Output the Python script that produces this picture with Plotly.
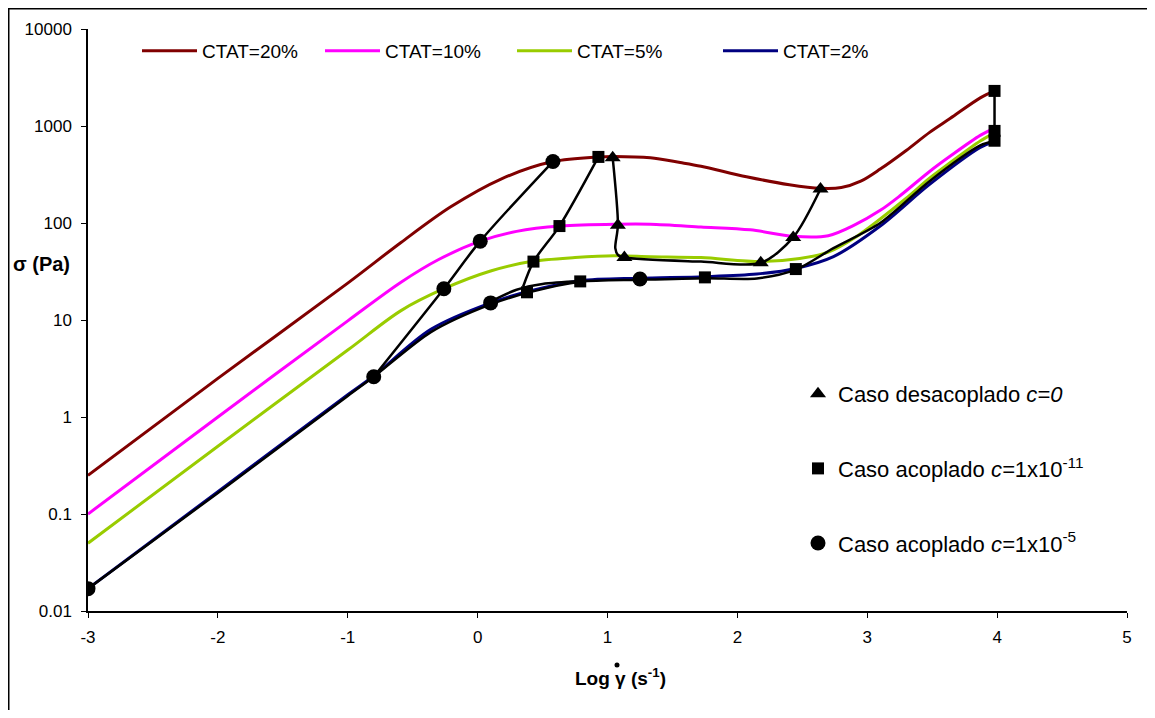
import plotly.graph_objects as go

# ---------------- data ----------------
ctat_names = ["CTAT=20%", "CTAT=10%", "CTAT=5%", "CTAT=2%"]
ctat_colors = ["#800000", "#FF00FF", "#99CC00", "#000080"]

x_20 = [-3, -2, -1, -0.59, -0.21, 0.18, 0.58, 0.93, 1.05, 1.33, 1.56, 1.72, 2.07, 2.4, 2.64, 2.8, 2.95, 3.1, 3.3, 3.48, 3.64, 3.87, 3.98]
s_20 = [0.25, 2.5, 24, 63, 146, 284, 430, 480, 485, 470, 420, 385, 300, 248, 228, 232, 270, 360, 560, 860, 1200, 1950, 2300]

x_10 = [-3, -2, -1, -0.59, -0.3, 0.02, 0.3, 0.64, 1.07, 1.33, 1.72, 2.1, 2.43, 2.7, 2.9, 3.1, 3.25, 3.48, 3.64, 3.87, 3.98]
s_10 = [0.1, 1.0, 9.8, 24.5, 42, 65, 82, 93, 97, 97, 91, 85, 73, 74, 95, 135, 190, 340, 490, 800, 950]

x_5 = [-3, -2, -1, -0.59, -0.26, 0.1, 0.41, 0.75, 1.05, 1.33, 1.72, 2.18, 2.48, 2.7, 2.9, 3.1, 3.3, 3.48, 3.64, 3.87, 3.98]
s_5 = [0.05, 0.5, 4.9, 12.5, 21, 32, 40, 44, 46, 45, 44, 40, 43, 50, 70, 110, 180, 290, 420, 700, 850]

x_2 = [-3, -2, -1, -0.8, -0.36, 0.1, 0.41, 0.79, 1.25, 1.75, 2.15, 2.45, 2.74, 3.1, 3.48, 3.87, 3.98]
s_2 = [0.017, 0.17, 1.7, 2.65, 8.0, 15, 20, 25.4, 27, 28, 29.8, 34, 45, 93, 250, 600, 690]

# black model curves
x_base = [-3, -2, -1, -0.8, -0.36, 0.1, 0.41, 0.79, 1.25, 1.75, 2.15, 2.45, 2.74, 3.1, 3.48, 3.87, 3.98]
s_base = [0.017, 0.165, 1.65, 2.6, 7.5, 14.5, 19.5, 24.8, 26, 27, 26.8, 33, 55, 100, 270, 630, 705]

x_upper = [0.1, 0.3, 0.5, 0.79]
s_upper = [15.5, 20.5, 23.5, 25.2]

x_circ_path = [-0.8, -0.26, 0.02, 0.58]
s_circ_path = [2.6, 21, 65, 430]

x_sq_path = [0.35, 0.43, 0.63, 0.93]
s_sq_path = [22, 40, 93, 480]

x_tri_path = [1.04, 1.08, 1.06, 1.08, 1.13, 1.72, 2.18, 2.43, 2.64]
s_tri_path = [470, 95, 55, 47, 44, 40, 38.7, 71, 224]

x_end_path = [3.98, 3.98]
s_end_path = [705, 2300]

# markers
x_tri = [1.04, 1.08, 1.13, 2.18, 2.43, 2.64]
s_tri = [470, 95, 44, 39, 71, 224]
x_sq = [0.38, 0.43, 0.63, 0.93, 0.79, 1.75, 2.45, 3.98, 3.98, 3.98]
s_sq = [19.3, 40, 93, 480, 25, 27.5, 33.5, 2300, 890, 705]
x_circ = [-3, -0.8, -0.26, 0.02, 0.58, 0.1, 1.25]
s_circ = [0.017, 2.6, 21, 65, 430, 15, 26.5]

marker_names = ["Caso desacoplado <i>c=0</i>",
                "Caso acoplado <i>c=</i>1x10<sup>-11</sup>",
                "Caso acoplado <i>c=</i>1x10<sup>-5</sup>"]

y_tickvals = [0.01, 0.1, 1, 10, 100, 1000, 10000]
y_ticktext = ["0.01", "0.1", "1", "10", "100", "1000", "10000"]
x_tickvals = [-3, -2, -1, 0, 1, 2, 3, 4, 5]
x_ticktext = ["-3", "-2", "-1", "0", "1", "2", "3", "4", "5"]

# ---------------- figure ----------------
FONT = "Liberation Sans, Arial, sans-serif"
fig = go.Figure()

ctat_x = [x_20, x_10, x_5, x_2]
ctat_s = [s_20, s_10, s_5, s_2]
legend_ids = ["legend", "legend2", "legend3", "legend4"]
for name, xs, ys, col, lg in zip(ctat_names, ctat_x, ctat_s, ctat_colors, legend_ids):
    fig.add_trace(go.Scatter(x=xs, y=ys, mode="lines", name=name, legend=lg,
                             line=dict(color=col, width=3, shape="spline", smoothing=0.9)))

for xs, ys in [(x_base, s_base), (x_upper, s_upper), (x_circ_path, s_circ_path),
               (x_sq_path, s_sq_path), (x_tri_path, s_tri_path), (x_end_path, s_end_path)]:
    fig.add_trace(go.Scatter(x=xs, y=ys, mode="lines", showlegend=False,
                             line=dict(color="black", width=2.5, shape="spline", smoothing=0.8)))

for name, xs, ys, sym, size, grp in zip(marker_names, [x_tri, x_sq, x_circ], [s_tri, s_sq, s_circ],
                                         ["triangle-up", "square", "circle"], [14, 12, 15], ["a", "b", "c"]):
    fig.add_trace(go.Scatter(x=xs, y=ys, mode="markers", name=name, legend="legend5", legendgroup=grp,
                             marker=dict(symbol=sym, size=size, color="black", line=dict(width=0))))

# page has an 8px body margin: figure is sized so the page is exactly 1155x718
OFF = 8
W, H = 1155 - 2 * OFF, 718 - 2 * OFF
L, T = 88 - OFF, 29 - OFF
PR, PB = 1127 - OFF, 611 - OFF
R, B = W - PR, H - PB
pw, ph = PR - L, PB - T

def px2x(ref_px):
    return (ref_px - OFF - L) / pw

def py2y(ref_py):
    return (PB - (ref_py - OFF)) / ph

leg_common = dict(orientation="h", xanchor="left", yanchor="top", bgcolor="rgba(0,0,0,0)",
                  font=dict(family=FONT, size=19, color="black"), itemwidth=55)
leg_x = [137, 320, 512, 718]

layout_legends = {}
for lg, lx in zip(legend_ids, leg_x):
    layout_legends[lg] = dict(leg_common, x=px2x(lx), y=py2y(32))
layout_legends["legend5"] = dict(x=px2x(798), y=py2y(373), xanchor="left", yanchor="top",
                                 bgcolor="rgba(0,0,0,0)", tracegroupgap=43,
                                 font=dict(family=FONT, size=22, color="black"))

fig.update_layout(
    width=W, height=H,
    margin=dict(l=L, r=R, t=T, b=B),
    paper_bgcolor="white", plot_bgcolor="white",
    font=dict(family=FONT, color="black"),
    xaxis=dict(range=[-3, 5], tickvals=x_tickvals, ticktext=x_ticktext, showline=True,
               linecolor="black", linewidth=1.5,
               ticks="outside", ticklen=5, tickcolor="black", showgrid=False, zeroline=False,
               tickfont=dict(family=FONT, size=17, color="black"), ticklabelstandoff=5),
    yaxis=dict(type="log", range=[-2, 4], tickvals=y_tickvals, ticktext=y_ticktext, showline=True,
               linecolor="black", linewidth=1.5, ticks="outside", ticklen=5, tickcolor="black",
               showgrid=False, zeroline=False,
               tickfont=dict(family=FONT, size=17, color="black"), ticklabelstandoff=6),
    **layout_legends,
    annotations=[
        dict(text="<b>σ (Pa)</b>", x=px2x(41), y=py2y(264), xref="paper", yref="paper",
             xanchor="center", yanchor="middle",
             showarrow=False, font=dict(family=FONT, size=20, color="black")),
        dict(text="<b>Log γ (s<sup>-1</sup>)</b>", x=px2x(573), y=py2y(677), xref="paper", yref="paper",
             xanchor="left", yanchor="middle",
             showarrow=False, font=dict(family=FONT, size=19, color="black")),
    ],
    shapes=[
        dict(type="rect", xref="paper", yref="paper", x0=(0.75 - L) / pw, x1=1.2,
             y0=-0.4, y1=(PB - 0.75) / ph, line=dict(color="black", width=1.5)),
        # dot over the gamma of the x-axis title
        dict(type="circle", xref="paper", yref="paper", x0=px2x(614.5), x1=px2x(619.5),
             y0=py2y(667.5), y1=py2y(662.5), fillcolor="black", line=dict(color="black", width=0)),
    ],
)

fig.write_html("out.html")
